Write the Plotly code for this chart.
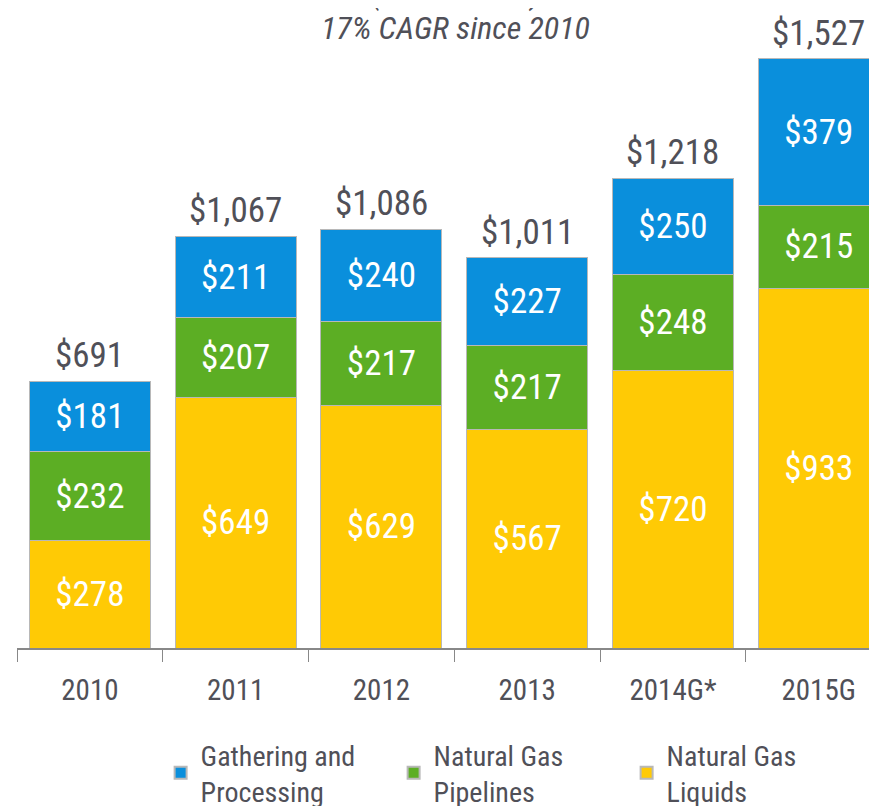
import plotly.graph_objects as go

categories = ["2010", "2011", "2012", "2013", "2014G*", "2015G"]
ngl = [278, 649, 629, 567, 720, 933]
ngp = [232, 207, 217, 217, 248, 215]
gp = [181, 211, 240, 227, 250, 379]
totals = [691, 1067, 1086, 1011, 1218, 1527]
total_labels = ["$691", "$1,067", "$1,086", "$1,011", "$1,218", "$1,527"]

FONT = "Roboto Condensed, Liberation Sans Narrow, DejaVu Sans Condensed, Arial Narrow, sans-serif"
GRAY = "#505058"

fig = go.Figure()
series = [
    ("Natural Gas<br>Liquids", ngl, "#FFCA05"),
    ("Natural Gas<br>Pipelines", ngp, "#5CAE24"),
    ("Gathering and<br>Processing", gp, "#0A8FDC"),
]
for name, vals, col in series:
    fig.add_trace(go.Bar(
        x=categories, y=vals, name=name,
        marker=dict(color=col, line=dict(color="#b8b8b8", width=1)),
        text=["$%d" % v for v in vals],
        textposition="inside", insidetextanchor="middle",
        textfont=dict(color="white", size=35, family=FONT),
        hoverinfo="skip",
    ))

for i, (t, lab) in enumerate(zip(totals, total_labels)):
    fig.add_annotation(x=i, y=t, xref="x", yref="y", text=lab, showarrow=False,
                       yanchor="bottom", yshift=3,
                       font=dict(size=35, color=GRAY, family=FONT))

fig.add_annotation(xref="paper", yref="paper", x=0.51, y=1.0, yshift=-20,
                   yanchor="middle", text="<i>17% CAGR since 2010</i>", showarrow=False,
                   font=dict(size=32, color=GRAY, family=FONT))
fig.add_annotation(xref="paper", yref="paper", x=0.51, y=1.0, yshift=15,
                   yanchor="middle", text="<i>($ in Millions)</i>", showarrow=False,
                   font=dict(size=32, color=GRAY, family=FONT))

fig.update_layout(
    width=869, height=798,
    margin=dict(l=9, r=0, t=0, b=158, autoexpand=False),
    barmode="stack", bargap=0.17,
    paper_bgcolor="white", plot_bgcolor="white",
    font=dict(family=FONT, color=GRAY),
    uniformtext=dict(minsize=35, mode="show"),
    showlegend=True,
    legend=dict(orientation="h", x=0.167, xanchor="left", y=-0.128, yanchor="top",
                traceorder="reversed", font=dict(size=28, color=GRAY, family=FONT),
                entrywidth=188, entrywidthmode="pixels", valign="middle",
                itemsizing="constant"),
    xaxis=dict(type="category", range=[-0.5, 5.40], tickson="boundaries",
               ticks="outside", ticklen=12, tickcolor="#888", showline=True,
               linecolor="#888", linewidth=2, showgrid=False,
               ticklabelstandoff=15,
               tickfont=dict(size=29, color=GRAY, family=FONT)),
    yaxis=dict(range=[0, 1659], visible=False, showgrid=False),
)

fig.write_html("out.html")
